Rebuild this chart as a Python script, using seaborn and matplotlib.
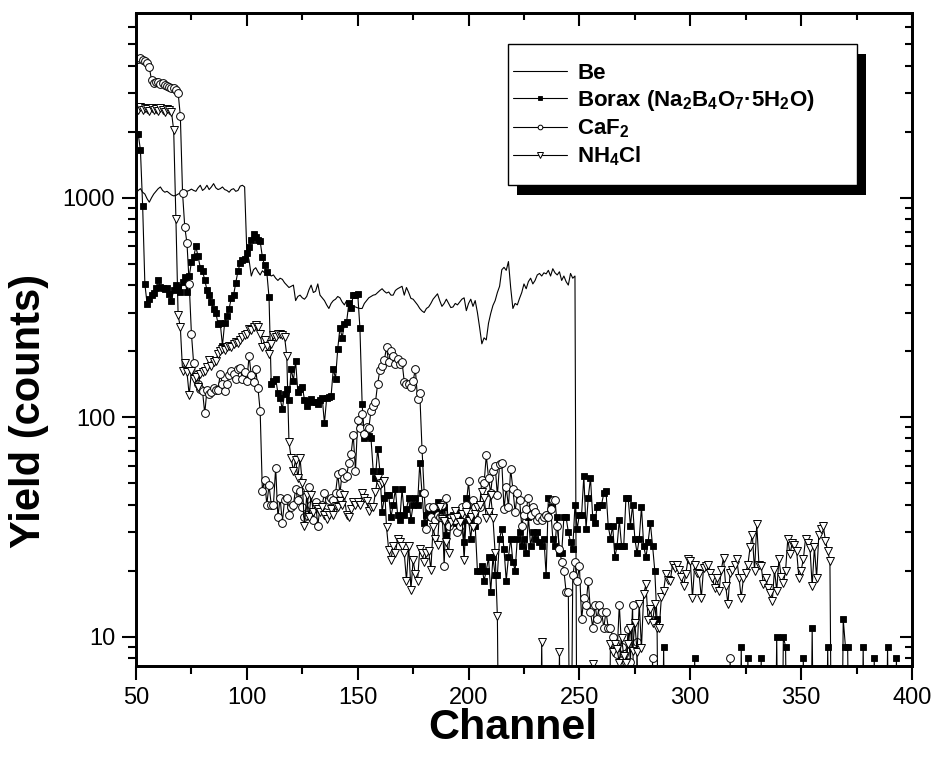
import numpy as np
import pandas as pd
import seaborn as sns
import matplotlib.pyplot as plt
from matplotlib.patches import Rectangle
from matplotlib.ticker import LogLocator, MultipleLocator, NullFormatter

# yields, one value per channel starting at channel 50
# (1 = below the visible range)
be_yield = [
    1050, 1080, 1100, 1060, 1040, 990, 955, 1000, 1040, 1070,
    1100, 1120, 1080, 1060, 1070, 1050, 1030, 1020, 1025, 1040,
    1050, 1060, 1075, 1070, 1080, 1095, 1080, 1070, 1110, 1140,
    1080, 1100, 1140, 1090, 1120, 1160, 1110, 1090, 1100, 1120,
    1090, 1080, 1060, 1090, 1100, 1070, 1080, 1130, 1140, 1120,
    560, 520, 440, 470, 480, 460, 445, 465, 455, 460,
    450, 440, 445, 430, 420, 430, 425, 410, 400, 390,
    395, 400, 340, 355, 360, 350, 345, 355, 380, 400,
    370, 375, 405, 360, 350, 340, 325, 313, 330, 340,
    345, 355, 350, 335, 325, 340, 313, 330, 320, 318,
    315, 313, 313, 330, 340, 350, 355, 360, 362, 370,
    378, 385, 375, 368, 372, 360, 360, 378, 385, 390,
    395, 360, 390, 370, 348, 345, 335, 325, 313, 305,
    300, 313, 318, 330, 345, 355, 365, 340, 320, 330,
    345, 330, 316, 318, 330, 325, 335, 345, 350, 306,
    330, 345, 320, 340, 300, 256, 216, 230, 225, 268,
    297, 323, 340, 370, 395, 470, 482, 467, 512, 390,
    313, 330, 325, 348, 370, 405, 385, 415, 430, 405,
    420, 445, 452, 440, 455, 450, 467, 440, 475, 455,
    445, 460, 420, 440, 415, 400, 452, 430, 440, 1,
]

borax_yield = [
    1950, 1950, 1650, 915, 405, 329, 345, 359, 370, 390,
    420, 392, 388, 385, 389, 365, 340, 380, 399, 392,
    371, 413, 435, 371, 438, 509, 536, 600, 540, 480,
    463, 423, 380, 359, 334, 312, 300, 266, 268, 212,
    270, 288, 312, 350, 359, 410, 463, 505, 519, 527,
    560, 596, 640, 681, 662, 644, 635, 536, 492, 458,
    352, 142, 146, 150, 129, 122, 109, 128, 135, 120,
    166, 147, 180, 130, 134, 138, 120, 113, 118, 121,
    117, 117, 115, 120, 122, 94, 122, 124, 125, 166,
    150, 205, 256, 230, 267, 272, 330, 316, 360, 362,
    366, 255, 115, 80, 82, 82, 80, 57, 53, 72,
    57, 37, 43, 44, 44, 35, 40, 47, 36, 34,
    47, 36, 38, 43, 34, 40, 43, 40, 62, 45,
    33, 36, 38, 35, 38, 37, 41, 37, 39, 39,
    29, 35, 35, 36, 33, 37, 36, 33, 27, 43,
    34, 28, 36, 32, 20, 20, 21, 18, 20, 23,
    16, 23, 19, 19, 28, 31, 25, 18, 23, 28,
    22, 20, 28, 30, 26, 28, 24, 35, 26, 30,
    28, 30, 27, 26, 28, 19, 43, 39, 28, 26,
    35, 24, 24, 35, 35, 30, 27, 25, 40, 31,
    36, 36, 54, 31, 43, 53, 35, 33, 39, 40,
    40, 45, 46, 32, 28, 32, 23, 26, 34, 26,
    26, 43, 43, 32, 40, 28, 24, 28, 39, 26,
    23, 27, 33, 26, 20, 12, 1, 1, 9, 1,
    1, 1, 1, 1, 1, 1, 1, 1, 1, 1,
    1, 1, 8, 1, 1, 1, 1, 1, 1, 1,
    1, 1, 1, 1, 1, 1, 1, 1, 1, 1,
    1, 1, 1, 9, 1, 1, 8, 1, 1, 1,
    1, 1, 8, 1, 1, 1, 1, 1, 1, 10,
    1, 1, 10, 9, 1, 1, 1, 1, 1, 1,
    1, 8, 1, 1, 1, 11, 1, 1, 1, 1,
    1, 1, 9, 1, 1, 1, 1, 1, 1, 12,
    9, 9, 1, 1, 1, 1, 1, 1, 9, 1,
    1, 1, 1, 8, 1, 1, 1, 1, 1, 9,
    1, 1, 1, 8, 1, 1, 1, 1, 1, 1,
]

caf2_yield = [
    4280, 4300, 4340, 4240, 4200, 4100, 3930, 3440, 3320, 3380,
    3380, 3300, 3340, 3260, 3230, 3190, 3170, 3160, 3100, 3010,
    2360, 1050, 735, 620, 405, 240, 176, 155, 142, 135,
    132, 104, 133, 128, 130, 136, 133, 133, 158, 141,
    131, 142, 155, 163, 158, 150, 165, 168, 150, 160,
    146, 190, 155, 144, 165, 136, 107, 46, 52, 40,
    49, 40, 40, 59, 35, 43, 33, 42, 43, 36,
    39, 40, 47, 42, 46, 39, 35, 36, 48, 40,
    34, 41, 32, 39, 40, 45, 40, 42, 43, 42,
    45, 55, 45, 56, 53, 54, 62, 68, 83, 57,
    97, 89, 103, 84, 90, 89, 107, 113, 117, 142,
    164, 172, 182, 208, 178, 200, 190, 175, 184, 175,
    179, 145, 142, 142, 137, 146, 166, 121, 129, 72,
    45, 31, 39, 35, 39, 34, 36, 35, 40, 21,
    43, 32, 35, 34, 34, 30, 32, 39, 36, 40,
    51, 37, 42, 39, 34, 39, 52, 50, 67, 53,
    45, 57, 60, 44, 61, 62, 38, 48, 39, 58,
    47, 37, 45, 42, 32, 36, 38, 43, 36, 39,
    37, 34, 35, 34, 35, 36, 35, 38, 42, 42,
    32, 25, 22, 20, 16, 16, 1, 19, 22, 18,
    21, 12, 15, 14, 18, 13, 11, 14, 12, 14,
    13, 11, 13, 11, 11, 10, 9.3, 8.3, 14, 9,
    8.3, 7.7, 10.8, 7.7, 14, 1, 9.5, 1, 1, 1,
    1, 1, 1, 8, 1, 1, 1, 1, 1, 1,
    1, 1, 1, 1, 1, 1, 1, 1, 1, 1,
    1, 1, 1, 1, 1, 1, 1, 1, 1, 1,
    1, 1, 1, 1, 1, 1, 1, 1, 8, 1,
]

nh4cl_yield = [
    2550, 2520, 2580, 2500, 2560, 2530, 2490, 2570, 2510, 2540,
    2480, 2560, 2520, 2470, 2540, 2500, 2460, 2030, 804, 291,
    257, 163, 176, 160, 126, 163, 150, 152, 137, 158,
    160, 163, 170, 183, 172, 178, 181, 195, 201, 205,
    203, 208, 212, 210, 216, 220, 218, 224, 232, 236,
    240, 253, 250, 257, 262, 259, 240, 208, 224, 212,
    194, 216, 236, 232, 240, 240, 238, 233, 191, 77,
    65, 57, 64, 53, 65, 50, 32, 44, 35, 44,
    37, 39, 38, 37, 39, 36, 34.5, 36, 38, 36,
    39.5, 39, 41.5, 40, 44, 36, 35, 38, 41, 40,
    41, 40, 45, 43, 41.5, 37.4, 39, 39, 45.6, 53,
    49, 50, 51, 31.5, 24.7, 22.3, 26, 24, 28, 27,
    26, 24, 18, 26, 16.4, 22.3, 19.3, 18, 25, 24,
    21.8, 24, 24.5, 20.2, 31.5, 28, 26.3, 38.8, 34.3, 33.8,
    27, 24, 33.3, 34.8, 37.4, 35, 33.3, 36.3, 22.3, 36.9,
    33.8, 35, 31.5, 36.3, 38.8, 40, 45.6, 43, 34.8, 36.9,
    44, 34.8, 24, 12.4, 1, 1, 1, 1, 1, 1,
    1, 1, 1, 1, 1, 1, 1, 1, 1, 1,
    1, 1, 1, 9.5, 1, 1, 1, 1, 1, 1,
    1, 8.5, 1, 1, 1, 1, 1, 1, 1, 1,
    1, 1, 1, 1, 1, 1, 7.5, 1, 1, 1,
    1, 1, 1, 1, 9.3, 8.5, 9.3, 8.8, 7.6, 9.9,
    8.2, 7.6, 9.3, 10.9, 8.6, 11.6, 8.5, 14.1, 8.9, 15.6,
    17.3, 11.9, 13.4, 11.6, 14.1, 10.9, 10.9, 15.2, 16.2, 19.3,
    18.2, 18, 21.3, 20.5, 21.3, 20.2, 18.8, 17, 19.3, 22.5,
    22.2, 15, 21.3, 19.6, 19.3, 15, 20.6, 21, 21.3, 19.6,
    18.6, 16.7, 18.6, 16.2, 20.2, 22.9, 17, 14.1, 19.6, 20.2,
    21.3, 22.5, 18.6, 15, 18.6, 19.6, 21.3, 25.6, 29.1, 20,
    32.5, 21.3, 21, 17.3, 18.6, 16.7, 15.8, 14.5, 20.2, 16.2,
    22.5, 18.8, 17.5, 20, 27.9, 23.8, 26.8, 26.3, 24.5, 18.6,
    20, 22.5, 28, 26.8, 25.4, 17, 25.6, 18.6, 29.2, 30.9,
    31.9, 27.4, 24.5, 22.2, 1,
]

first_channel = 50
series_names = ['Be', 'Borax (Na$_2$B$_4$O$_7$\u00b75H$_2$O)', 'CaF$_2$', 'NH$_4$Cl']
x_ticks = [50, 100, 150, 200, 250, 300, 350, 400]
y_ticks = [10, 100, 1000]


def to_frame(values):
    return pd.DataFrame({
        'channel': np.arange(first_channel, first_channel + len(values)),
        'counts': values,
    })


sns.set_style('ticks')
plt.rcParams['font.family'] = ['Liberation Sans', 'DejaVu Sans']
plt.rcParams['mathtext.fontset'] = 'custom'
plt.rcParams['mathtext.rm'] = 'Liberation Sans:bold'
plt.rcParams['mathtext.it'] = 'Liberation Sans:bold'
plt.rcParams['mathtext.bf'] = 'Liberation Sans:bold'
plt.rcParams['mathtext.default'] = 'rm'
for key in ('text.color', 'axes.labelcolor', 'xtick.color', 'ytick.color', 'axes.edgecolor'):
    plt.rcParams[key] = 'black'

fig = plt.figure(figsize=(9.36, 7.65), dpi=100)
ax = fig.add_axes([0.1453, 0.1294, 0.829, 0.8536])
ax.set_yscale('log')

styles = [
    dict(marker=None),
    dict(marker='s', ms=4.5, mfc='black', mec='black', mew=0.6),
    dict(marker='o', ms=5.6, mfc='white', mec='black', mew=0.7),
    dict(marker='v', ms=6.2, mfc='white', mec='black', mew=0.7),
]
all_yields = [be_yield, borax_yield, caf2_yield, nh4cl_yield]

for values, name, st in zip(all_yields, series_names, styles):
    sns.lineplot(data=to_frame(values), x='channel', y='counts', ax=ax,
                 color='black', lw=0.8, estimator=None, sort=False,
                 label=name, **st)

ax.set_xlim(50, 400)
ax.set_ylim(7.35, 6950)
ax.set_xticks(x_ticks)
ax.xaxis.set_minor_locator(MultipleLocator(25))
ax.set_yticks(y_ticks)
ax.set_yticklabels([str(v) for v in y_ticks])
ax.yaxis.set_minor_locator(LogLocator(base=10, subs=np.arange(2, 10)))
ax.yaxis.set_minor_formatter(NullFormatter())

for s in ax.spines.values():
    s.set_linewidth(1.8)
    s.set_visible(True)
ax.tick_params(which='major', direction='out', length=10, width=1.5,
               labelsize=17, pad=5, top=False, right=False)
ax.tick_params(which='minor', direction='out', length=6, width=1.5,
               top=False, right=False)

# mirrored ticks pointing inward on top and right
top = ax.twiny()
top.set_xlim(ax.get_xlim())
top.set_xticks(x_ticks)
top.xaxis.set_minor_locator(MultipleLocator(25))
top.tick_params(which='major', direction='in', length=9, width=1.5, labeltop=False)
top.tick_params(which='minor', direction='in', length=5, width=1.5)
right = ax.twinx()
right.set_yscale('log')
right.set_ylim(ax.get_ylim())
right.set_yticks(y_ticks)
right.yaxis.set_minor_locator(LogLocator(base=10, subs=np.arange(2, 10)))
right.yaxis.set_minor_formatter(NullFormatter())
right.tick_params(which='major', direction='in', length=9, width=1.5, labelright=False)
right.tick_params(which='minor', direction='in', length=5, width=1.5)
for a in (top, right):
    for s in a.spines.values():
        s.set_linewidth(1.8)

ax.set_xlabel('Channel', fontsize=31, fontweight='bold')
ax.set_ylabel('Yield (counts)', fontsize=30, fontweight='bold')
ax.xaxis.set_label_coords(0.485, -0.064)
ax.yaxis.set_label_coords(-0.112, 0.39)

# legend: white box with a black drop shadow
box_x0, box_x1 = 0.4794, 0.9291
box_y0, box_y1 = 0.7366, 0.9525
sx, sy = 9 / 776, 10 / 653
right.add_patch(Rectangle((box_x0 + sx, box_y0 - sy), box_x1 - box_x0, box_y1 - box_y0,
                          transform=right.transAxes, facecolor='black',
                          edgecolor='none', clip_on=False, zorder=8))
right.add_patch(Rectangle((box_x0, box_y0), box_x1 - box_x0, box_y1 - box_y0,
                          transform=right.transAxes, facecolor='white',
                          edgecolor='black', lw=1.0, clip_on=False, zorder=9))

handles, labels = ax.get_legend_handles_labels()
if ax.get_legend():
    ax.get_legend().remove()
leg = right.legend(handles, labels, loc='upper left', bbox_to_anchor=(0.4858, 0.924),
                   borderaxespad=0, borderpad=0, frameon=False, markerscale=0.6,
                   handlelength=2.45, handletextpad=0.45, labelspacing=0.2,
                   prop={'weight': 'bold', 'size': 16})
leg.set_zorder(10)

fig.savefig('out.png', dpi=100)
plt.close(fig)
